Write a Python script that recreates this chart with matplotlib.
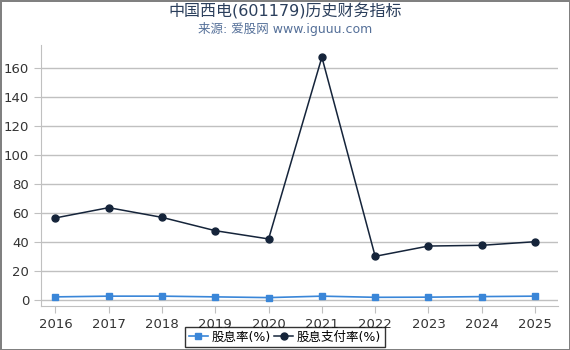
import numpy as np
from matplotlib import pyplot as plt

plt.rcParams['font.family'] = ['DejaVu Sans', 'Noto Sans CJK SC']

years = ["2016", "2017", "2018", "2019", "2020", "2021", "2022", "2023", "2024", "2025"]
dividend_yield = [2.1, 2.6, 2.6, 2.1, 1.6, 2.6, 1.8, 1.9, 2.3, 2.6]
payout_ratio = [56.6, 63.7, 57.0, 47.8, 42.1, 167.6, 30.1, 37.2, 37.7, 40.2]
yticks = [0, 20, 40, 60, 80, 100, 120, 140, 160]

fig = plt.figure(figsize=(5.7, 3.5), dpi=100)
fig.patch.set_edgecolor("#808080")
fig.patch.set_linewidth(2)
ax = fig.add_axes([41 / 570, 1 - 306 / 350, 517 / 570, 261 / 350])

x = np.arange(len(years))
ax.plot(x, dividend_yield, color="#3a86d8", marker="s", markersize=5,
        linewidth=1.2, label="股息率(%)", zorder=3)
ax.plot(x, payout_ratio, color="#15243a", marker="o", markersize=5,
        linewidth=1.1, label="股息支付率(%)", zorder=4)

ax.set_xlim(-0.27, 9.43)
ax.set_ylim(-4.2, 176)
ax.set_xticks(x)
ax.set_xticklabels(years)
ax.set_yticks(yticks)
ax.grid(axis="y", color="#c0c0c0", linewidth=1)
ax.set_axisbelow(True)
for s in ["top", "right"]:
    ax.spines[s].set_visible(False)
ax.spines["left"].set_color("#c0c0c0")
ax.spines["bottom"].set_color("#c0c0c0")
ax.tick_params(axis="both", colors="#c0c0c0", labelcolor="#333333", labelsize=9.5)
ax.tick_params(axis="x", length=5)
ax.tick_params(axis="y", length=5)

fig.text(0.5, 0.968, "中国西电(601179)历史财务指标", ha="center", va="center",
         fontsize=11.5, color="#2b3f5c")
fig.text(0.5, 0.918, "来源: 爱股网 www.iguuu.com", ha="center", va="center",
         fontsize=9, color="#557099")

leg = fig.legend(loc="center", bbox_to_anchor=(0.5, 1 - 337 / 350), ncol=2,
                 fontsize=9, frameon=True, fancybox=False, edgecolor="black",
                 handlelength=1.5, handletextpad=0.3, columnspacing=0.3,
                 borderpad=0.3)
leg.get_frame().set_linewidth(1)

fig.savefig("out.png", dpi=100)
